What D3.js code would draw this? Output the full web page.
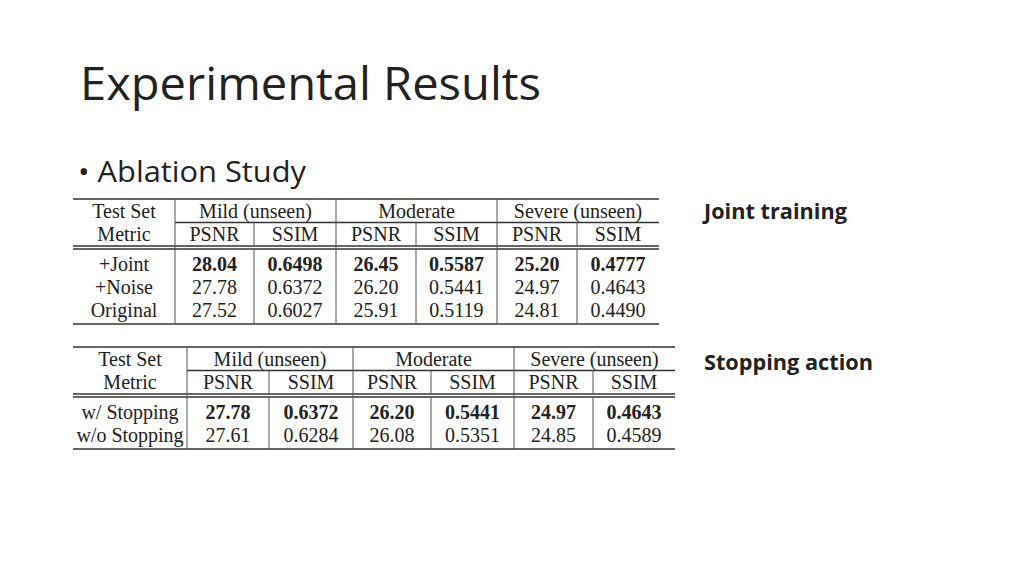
<!DOCTYPE html>
<html><head><meta charset="utf-8">
<script src="https://cdn.jsdelivr.net/npm/d3@7"></script>
<style>body{margin:0;background:#fff}</style>
</head><body>
<svg id="c" width="1024" height="576"></svg>
<script>
// table data
var groups = ["Mild (unseen)", "Moderate", "Severe (unseen)"];
var metrics = ["PSNR", "SSIM"];
var joint = [
  ["+Joint", "28.04", "0.6498", "26.45", "0.5587", "25.20", "0.4777"],
  ["+Noise", "27.78", "0.6372", "26.20", "0.5441", "24.97", "0.4643"],
  ["Original", "27.52", "0.6027", "25.91", "0.5119", "24.81", "0.4490"]
];
var stopping = [
  ["w/ Stopping", "27.78", "0.6372", "26.20", "0.5441", "24.97", "0.4643"],
  ["w/o Stopping", "27.61", "0.6284", "26.08", "0.5351", "24.85", "0.4589"]
];
var boldRow = 0;

var svg = d3.select("#c");
var sans = "'Segoe UI','Open Sans','Noto Sans',sans-serif";

svg.append("text").attr("x", 80).attr("y", 100).attr("font-family", sans)
  .attr("font-size", 46).attr("fill", "#222").attr("textLength", 461)
  .attr("lengthAdjust", "spacingAndGlyphs").text("Experimental Results");
svg.append("text").attr("x", 78).attr("y", 182).attr("font-family", sans)
  .attr("font-size", 29).attr("fill", "#222").attr("textLength", 228)
  .attr("lengthAdjust", "spacingAndGlyphs").text("\u2022 Ablation Study");

function drawTable(rows, cfg) {
  var g = svg.append("g");
  var e = cfg.edges; // column edges
  var serif = "'Liberation Serif','Times New Roman',serif";
  function line(x1, x2, y, w) {
    g.append("line").attr("x1", x1).attr("x2", x2).attr("y1", y).attr("y2", y)
      .attr("stroke", "#333").attr("stroke-width", w || 1.3);
  }
  function vline(x, y1, y2) {
    g.append("line").attr("x1", x).attr("x2", x).attr("y1", y1).attr("y2", y2)
      .attr("stroke", "#555").attr("stroke-width", 1);
  }
  function txt(x, y, s, b) {
    g.append("text").attr("x", x).attr("y", y).attr("text-anchor", "middle")
      .attr("font-family", serif).attr("font-size", 20).attr("fill", "#222")
      .attr("font-weight", b ? "bold" : "normal").text(s);
  }
  var L = e[0], R = e[e.length - 1];
  line(L, R, cfg.top);
  line(e[1], R, cfg.top + cfg.h);
  line(L, R, cfg.top + 2 * cfg.h);
  line(L, R, cfg.top + 2 * cfg.h + 3);
  var bodyTop = cfg.top + 2 * cfg.h + 3;
  var bottom = bodyTop + rows.length * cfg.rh + 6;
  line(L, R, bottom);
  // vertical separators
  [1, 3, 5].forEach(function (i) { vline(e[i], cfg.top, bottom); });
  [2, 4, 6].forEach(function (i) {
    vline(e[i], cfg.top + cfg.h, cfg.top + 2 * cfg.h);
    vline(e[i], bodyTop, bottom);
  });
  var mid = function (i) { return (e[i] + e[i + 1]) / 2; };
  txt(mid(0), cfg.top + cfg.h - 5, "Test Set");
  groups.forEach(function (gname, k) { txt((e[1 + 2 * k] + e[3 + 2 * k]) / 2, cfg.top + cfg.h - 5, gname); });
  txt(mid(0), cfg.top + 2 * cfg.h - 5, "Metric");
  for (var k = 0; k < 6; k++) txt(mid(k + 1), cfg.top + 2 * cfg.h - 5, metrics[k % 2]);
  rows.forEach(function (r, ri) {
    var y = bodyTop + 3 + (ri + 1) * cfg.rh - 4;
    r.forEach(function (v, ci) { txt(mid(ci), y, v, ri === boldRow && ci > 0); });
  });
}

drawTable(joint, { edges: [73, 175, 254, 336, 416, 497, 577, 659], top: 199, h: 23.5, rh: 23 });
drawTable(stopping, { edges: [73, 187, 269, 353, 431, 514, 593, 675], top: 347, h: 23.5, rh: 23 });

svg.append("text").attr("x", 704).attr("y", 219).attr("font-family", sans)
  .attr("font-size", 21).attr("font-weight", "bold").attr("fill", "#222")
  .attr("textLength", 143).attr("lengthAdjust", "spacingAndGlyphs").text("Joint training");
svg.append("text").attr("x", 704).attr("y", 370).attr("font-family", sans)
  .attr("font-size", 21).attr("font-weight", "bold").attr("fill", "#222")
  .attr("textLength", 169).attr("lengthAdjust", "spacingAndGlyphs").text("Stopping action");
</script>
</body></html>
